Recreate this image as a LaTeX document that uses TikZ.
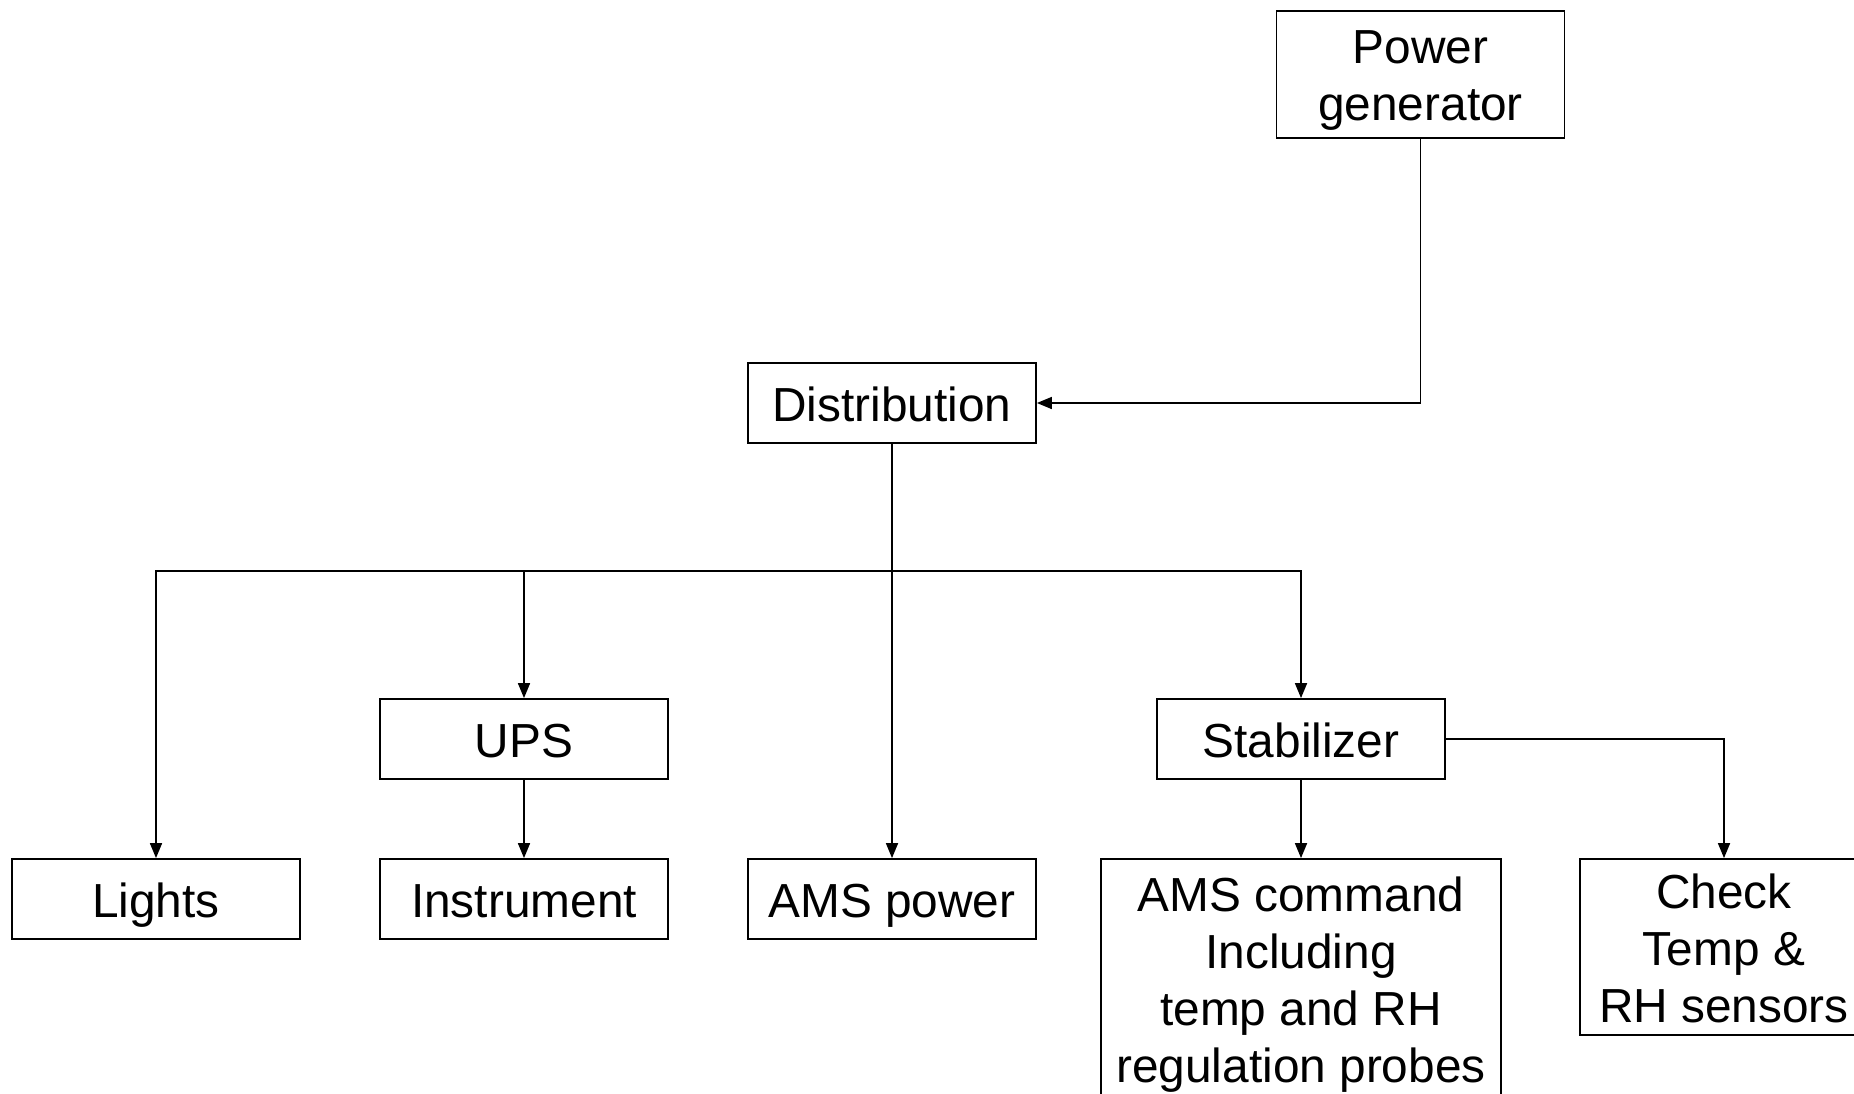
\documentclass[tikz,border=0pt]{standalone}
\usepackage{fontspec}
\setmainfont{Liberation Sans}
\usetikzlibrary{arrows.meta}
% uniform line strut: height + depth equal to the baseline skip
\newcommand\ls{\rule[-10.5pt]{0pt}{57pt}}
\begin{document}
\begin{tikzpicture}[x=1pt,y=-1pt,
  box/.style={draw, line width=1.8pt, inner sep=0pt, minimum width=288pt,
    minimum height=80pt, align=center, font=\fontsize{47.8}{57}\selectfont},
  link/.style={line width=1.7pt, -{Triangle[length=15pt,width=12pt]}}]
\useasboundingbox (0,0) rectangle (1854,1094);
\clip (0,0) rectangle (1854,1094);

% boxes
\node[box, minimum height=127pt] (gen) at (1420.5,74.5) {\ls Power\\\ls generator};
\node[box] (dist)   at (892,403)  {\ls Distribution};
\node[box] (ups)    at (524,739)  {\ls UPS};
\node[box] (stab)   at (1301,739) {\ls Stabilizer};
\node[box] (lights) at (156,899)  {\ls Lights};
\node[box] (instr)  at (524,899)  {\ls Instrument};
\node[box] (amsp)   at (892,899)  {\ls AMS power};
\node[box, minimum width=400pt, minimum height=239pt] (cmd) at (1301,978.5)
  {\ls AMS command\\\ls Including\\\ls temp and RH\\\ls regulation probes};
\node[box, minimum height=176pt] (check) at (1724,947)
  {\ls Check\\\ls Temp \&\\\ls RH sensors};

% distribution bus
\coordinate (bus) at (892,571);

% connectors
\draw[link] (gen.south) |- (dist.east);
\draw[link] (dist.south) -- (bus) -| (lights.north);
\draw[link] (dist.south) -- (bus) -| (ups.north);
\draw[link] (dist.south) -- (amsp.north);
\draw[link] (dist.south) -- (bus) -| (stab.north);
\draw[link] (ups.south) -- (instr.north);
\draw[link] (stab.south) -- (cmd.north);
\draw[link] (stab.east) -| (check.north);
\end{tikzpicture}
\end{document}
